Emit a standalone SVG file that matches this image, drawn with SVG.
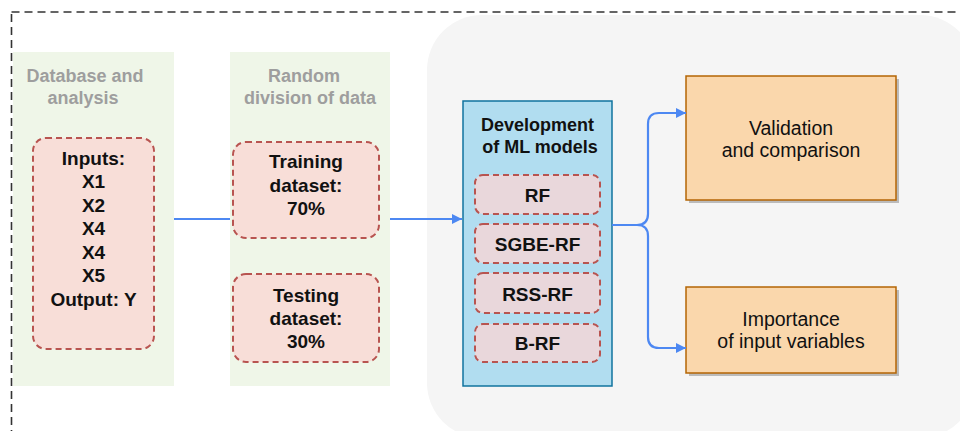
<svg xmlns="http://www.w3.org/2000/svg" width="960" height="431" viewBox="0 0 960 431">
  <style>
    text { font-family: "Liberation Sans", Arial, sans-serif; }
    .title { font-size: 18px; font-weight: bold; fill: #9e9e9e; text-anchor: middle; }
    .lbl { font-size: 19px; font-weight: bold; fill: #111; text-anchor: middle; }
    .hdr { font-size: 18px; font-weight: bold; fill: #111; text-anchor: middle; }
    .out { font-size: 19.5px; fill: #111; text-anchor: middle; }
    .stage { fill: #eff6e8; }
    .item { fill: #f8ded8; stroke: #b85450; stroke-width: 2; stroke-dasharray: 6 4; }
    .model { fill: #e9d7db; stroke: #b85450; stroke-width: 2; stroke-dasharray: 6 4; }
    .result { fill: #fad7ac; stroke: #b46504; stroke-width: 1.5; }
    .shadow { fill: #8a8a8a; opacity: 0.55; }
    .link { fill: none; stroke: #4d88f2; stroke-width: 2.2; }
  </style>
  <defs>
    <marker id="arrow" viewBox="0 0 10 10" refX="10" refY="5" markerWidth="11" markerHeight="10" markerUnits="userSpaceOnUse" orient="auto">
      <path d="M0,0 L10,5 L0,10 z" fill="#4d88f2"/>
    </marker>
  </defs>

  <rect x="0" y="0" width="960" height="431" fill="#ffffff"/>

  <!-- outer dashed frame -->
  <rect x="11.5" y="12" width="1000" height="500" fill="none" stroke="#333" stroke-width="1.6" stroke-dasharray="8 5"/>

  <!-- modelling area background -->
  <rect x="427" y="15" width="548" height="423" rx="55" ry="55" fill="#f5f5f5"/>

  <!-- stage 1: data -->
  <g id="database">
    <rect class="stage" x="13" y="52" width="161" height="334"/>
    <text class="title" x="85" y="82">Database and</text>
    <text class="title" x="83" y="104">analysis</text>
    <g id="inputs">
      <rect class="item" x="33" y="138" width="121" height="211" rx="13"/>
      <text class="lbl" x="93.5" y="165">Inputs:</text>
      <text class="lbl" x="93.5" y="188">X1</text>
      <text class="lbl" x="93.5" y="212">X2</text>
      <text class="lbl" x="93.5" y="235">X4</text>
      <text class="lbl" x="93.5" y="259">X4</text>
      <text class="lbl" x="93.5" y="282">X5</text>
      <text class="lbl" x="93.5" y="306">Output: Y</text>
    </g>
  </g>

  <!-- stage 2: split -->
  <g id="division">
    <rect class="stage" x="230" y="52" width="160" height="334"/>
    <text class="title" x="304" y="82">Random</text>
    <text class="title" x="310" y="104">division of data</text>
    <g id="training">
      <rect class="item" x="233" y="142" width="146" height="96" rx="13"/>
      <text class="lbl" x="306" y="168">Training</text>
      <text class="lbl" x="306" y="192">dataset:</text>
      <text class="lbl" x="306" y="215">70%</text>
    </g>
    <g id="testing">
      <rect class="item" x="233" y="274" width="146" height="88" rx="13"/>
      <text class="lbl" x="306" y="302">Testing</text>
      <text class="lbl" x="306" y="325">dataset:</text>
      <text class="lbl" x="306" y="348">30%</text>
    </g>
  </g>

  <!-- stage 3: models -->
  <g id="models">
    <rect x="463" y="101" width="149" height="285" fill="#b1ddf0" stroke="#10739e" stroke-width="1.5"/>
    <text class="hdr" x="537.5" y="131">Development</text>
    <text class="hdr" x="540" y="153">of ML models</text>
    <g id="rf">
      <rect class="model" x="475" y="175" width="125" height="39" rx="8"/>
      <text class="lbl" x="537.5" y="202">RF</text>
    </g>
    <g id="sgbe-rf">
      <rect class="model" x="475" y="224" width="125" height="39" rx="8"/>
      <text class="lbl" x="537.5" y="251">SGBE-RF</text>
    </g>
    <g id="rss-rf">
      <rect class="model" x="475" y="273" width="125" height="40" rx="8"/>
      <text class="lbl" x="537.5" y="301">RSS-RF</text>
    </g>
    <g id="b-rf">
      <rect class="model" x="475" y="324" width="125" height="38" rx="8"/>
      <text class="lbl" x="537.5" y="350">B-RF</text>
    </g>
  </g>

  <!-- results -->
  <g id="validation">
    <rect class="shadow" x="689" y="79" width="210" height="124"/>
    <rect class="result" x="686" y="76" width="210" height="124"/>
    <text class="out" x="791" y="135">Validation</text>
    <text class="out" x="791" y="157">and comparison</text>
  </g>
  <g id="importance">
    <rect class="shadow" x="689" y="290" width="210" height="86"/>
    <rect class="result" x="686" y="287" width="210" height="86"/>
    <text class="out" x="791" y="326">Importance</text>
    <text class="out" x="791" y="348">of input variables</text>
  </g>

  <!-- connectors -->
  <g id="connectors">
    <path class="link" d="M174,219 H230"/>
    <path class="link" d="M390,219 H462" marker-end="url(#arrow)"/>
    <path class="link" d="M612,225 H637 Q648,225 648,214 V124 Q648,113 659,113 H686" marker-end="url(#arrow)"/>
    <path class="link" d="M612,225 H637 Q648,225 648,236 V337 Q648,348 659,348 H686" marker-end="url(#arrow)"/>
  </g>
</svg>
